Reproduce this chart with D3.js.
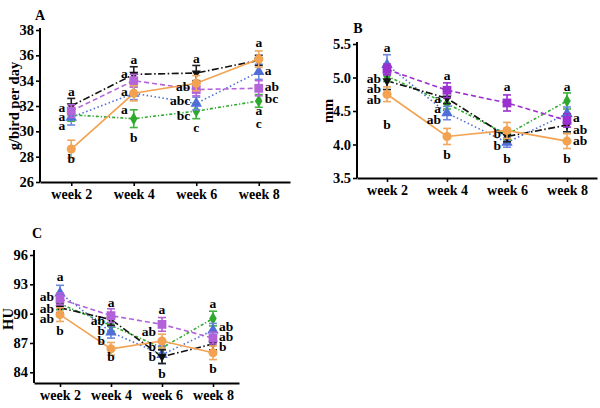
<!DOCTYPE html>
<html><head><meta charset="utf-8">
<script src="https://cdn.jsdelivr.net/npm/d3@7"></script>
<style>
html,body{margin:0;padding:0;background:#fff;}
svg text{font-family:"Liberation Serif","Times New Roman",serif;font-weight:bold;fill:#000;}
</style></head>
<body><svg id="c" width="600" height="408"></svg>
<script>
// ---------- data ----------
const weeks = ["week 2","week 4","week 6","week 8"];
const seriesKeys = ["green","blue","black","purple","orange"];

// Panel A: feed intake, g/bird per day
const aTicks = [26,28,30,32,34,36,38];
const aBlack  = [32.0,34.5,34.6,35.6], aBlackSE  = [0.6,0.6,0.6,0.4];
const aPurple = [31.6,34.0,33.3,33.4], aPurpleSE = [0.5,0.5,0.5,0.6];
const aBlue   = [31.1,33.0,32.2,34.7], aBlueSE   = [0.6,0.5,0.5,0.6];
const aGreen  = [31.3,31.0,31.6,32.4], aGreenSE  = [0.5,0.7,0.6,0.5];
const aOrange = [28.6,33.0,33.8,35.7], aOrangeSE = [0.7,0.6,0.6,0.65];
// letters: [week index, value level, text, side]
const aLetters = [
  [0,33.2,"a","c"],[0,31.9,"a","l"],[0,31.16,"a","l"],[0,30.48,"a","l"],[0,27.9,"b","c"],
  [1,35.7,"a","c"],[1,34.58,"a","l"],[1,33.13,"a","l"],[1,31.74,"a","l"],[1,29.5,"b","c"],
  [2,35.77,"a","c"],[2,33.53,"ab","l"],[2,32.42,"abc","l"],[2,31.27,"bc","l"],[2,30.32,"c","c"],
  [3,37.0,"a","c"],[3,34.79,"a","r"],[3,33.58,"ab","r"],[3,32.6,"bc","r"],[3,31.69,"a","c"],[3,30.63,"c","c"]
];

// Panel B: mm
const bTicks = [3.5,4.0,4.5,5.0,5.5];
const bBlack  = [4.95,4.69,4.12,4.29], bBlackSE  = [0.13,0.08,0.08,0.1];
const bPurple = [5.12,4.81,4.62,4.36], bPurpleSE = [0.08,0.11,0.12,0.1];
const bBlue   = [5.19,4.47,4.03,4.46], bBlueSE   = [0.15,0.1,0.07,0.1];
const bGreen  = [5.02,4.61,4.15,4.65], bGreenSE  = [0.08,0.08,0.08,0.12];
const bOrange = [4.75,4.12,4.21,4.05], bOrangeSE = [0.11,0.12,0.12,0.11];
const bLetters = [
  [0,5.445,"a","c"],[0,4.995,"ab","l"],[0,4.835,"ab","l"],[0,4.67,"ab","l"],[0,4.30,"b","c"],
  [1,5.04,"a","c"],[1,4.686,"a","l"],[1,4.536,"a","l"],[1,4.375,"ab","l"],[1,3.85,"b","c"],
  [2,4.87,"a","c"],[2,4.17,"b","l"],[2,3.995,"b","l"],[2,3.80,"b","c"],
  [3,4.87,"a","c"],[3,4.40,"a","r"],[3,4.22,"ab","r"],[3,4.06,"ab","r"],[3,3.80,"b","c"]
];

// Panel C: HU
const cTicks = [84,87,90,93,96];
const cBlack  = [90.6,89.4,85.6,86.9], cBlackSE  = [0.5,0.6,0.7,0.6];
const cPurple = [91.5,89.8,88.9,87.5], cPurpleSE = [0.6,0.7,0.7,0.6];
const cBlue   = [92.1,88.1,85.8,88.3], cBlueSE   = [0.8,0.6,0.9,0.7];
const cGreen  = [91.0,88.8,86.5,89.5], cGreenSE  = [0.6,0.6,0.6,0.75];
const cOrange = [89.9,86.4,87.2,86.0], cOrangeSE = [0.7,0.65,0.7,0.7];
const cLetters = [
  [0,93.85,"a","c"],[0,91.73,"ab","l"],[0,90.6,"ab","l"],[0,89.52,"ab","l"],[0,88.26,"b","c"],
  [1,91.12,"a","c"],[1,89.28,"ab","l"],[1,88.26,"b","l"],[1,87.23,"b","l"],[1,85.67,"b","c"],
  [2,90.44,"a","c"],[2,88.15,"ab","l"],[2,86.69,"b","l"],[2,85.6,"b","l"],[2,83.9,"b","c"],
  [3,91.06,"a","c"],[3,88.66,"ab","r"],[3,87.71,"ab","r"],[3,86.62,"b","r"],[3,84.41,"b","c"]
];

// ---------- styles ----------
const style = {
  black:  {color:"#111111", err:"#222222", dash:"7,2.5,1.5,2.5", shape:"tri-down"},
  purple: {color:"#B060D8", err:"#C07ADF", dash:"5,3", shape:"square"},
  blue:   {color:"#4F6ED8", err:"#6E88E0", dash:"1.5,2.5", shape:"tri-up"},
  green:  {color:"#2DAA2D", err:"#3DB33D", dash:"3,2,1.2,2", shape:"diamond"},
  orange: {color:"#F2A250", err:"#F0A860", dash:null, shape:"circle"}
};

const panels = [
  {label:"A", ylab:"g/bird per day", ticks:aTicks, dom:[26,38], x0:40, x1:290, yTop:30, yBot:182, axTop:28,
   pad:0.5, fmt:d3.format("d"), letters:aLetters, purple:"#B565DA",
   data:{black:[aBlack,aBlackSE],purple:[aPurple,aPurpleSE],blue:[aBlue,aBlueSE],green:[aGreen,aGreenSE],orange:[aOrange,aOrangeSE]},
   lab:[40,15], ylabX:14},
  {label:"B", ylab:"mm", ticks:bTicks, dom:[3.5,5.5], x0:357, x1:597, yTop:44, yBot:178, axTop:42,
   pad:0.5, fmt:d3.format(".1f"), letters:bLetters, purple:"#9B30D0",
   data:{black:[bBlack,bBlackSE],purple:[bPurple,bPurpleSE],blue:[bBlue,bBlueSE],green:[bGreen,bGreenSE],orange:[bOrange,bOrangeSE]},
   lab:[358,28], ylabX:328},
  {label:"C", ylab:"HU", ticks:cTicks, dom:[84,96], x0:34, x1:239, yTop:255, yBot:372.3, axBot:383, axTop:250,
   pad:0.51, fmt:d3.format("d"), letters:cLetters, purple:"#B262D8",
   data:{black:[cBlack,cBlackSE],purple:[cPurple,cPurpleSE],blue:[cBlue,cBlueSE],green:[cGreen,cGreenSE],orange:[cOrange,cOrangeSE]},
   lab:[37,233], ylabX:8}
];

const svg = d3.select("#c");

function markerPath(shape, s){
  if(shape==="circle") return d3.symbol(d3.symbolCircle, s*s*0.8)();
  if(shape==="square") return d3.symbol(d3.symbolSquare, s*s*0.95)();
  if(shape==="diamond") return d3.symbol(d3.symbolDiamond, s*s*0.6)();
  if(shape==="tri-up") return d3.symbol(d3.symbolTriangle, s*s*0.7)();
  if(shape==="tri-down") return d3.symbol(d3.symbolTriangle, s*s*0.45)();
  return null;
}

panels.forEach(p=>{
  const g = svg.append("g");
  const x = d3.scalePoint().domain(weeks).range([p.x0,p.x1]).padding(p.pad);
  const y = d3.scaleLinear().domain(p.dom).range([p.yBot,p.yTop]);
  const axBot = p.axBot || p.yBot;

  // axes
  const yAx = g.append("g").attr("transform",`translate(${p.x0},0)`)
    .call(d3.axisLeft(y).tickValues(p.ticks).tickFormat(p.fmt).tickSize(4).tickSizeOuter(0).tickPadding(2));
  yAx.select(".domain").attr("d",`M0,${axBot}V${p.axTop}`);
  yAx.selectAll("text").style("font-size","14.5px");
  const xAx = g.append("g").attr("transform",`translate(0,${axBot})`)
    .call(d3.axisBottom(x).tickSize(4).tickSizeOuter(0).tickPadding(3));
  xAx.selectAll("text").style("font-size","14px").attr("dy","0.72em");
  g.selectAll(".domain").attr("stroke","#000").attr("stroke-width",2);
  g.selectAll(".tick line").attr("stroke","#000").attr("stroke-width",1.6);

  // panel label
  g.append("text").attr("x",p.lab[0]).attr("y",p.lab[1]).attr("dy","0.35em")
    .attr("text-anchor","middle").style("font-size","14px").text(p.label);
  // y label
  g.append("text").attr("transform",`translate(${p.ylabX},${(p.yTop+axBot)/2}) rotate(-90)`)
    .attr("dy","0.35em").attr("text-anchor","middle").style("font-size","14.5px").text(p.ylab);

  const line = d3.line().x((d,i)=>x(weeks[i])).y(d=>y(d));

  seriesKeys.forEach(k=>{
    const st = style[k];
    const col = k==="purple" ? p.purple : st.color;
    const [vals] = p.data[k];
    g.append("path").datum(vals).attr("d",line).attr("fill","none")
      .attr("stroke",col).attr("stroke-width",1.6)
      .attr("stroke-dasharray",st.dash);
  });

  seriesKeys.forEach(k=>{
    const st = style[k];
    const col = k==="purple" ? p.purple : st.color;
    const ecol = k==="purple" ? p.purple : st.err;
    const [vals,se] = p.data[k];
    vals.forEach((v,i)=>{
      const cx = x(weeks[i]);
      const y1 = y(v+se[i]), y2 = y(v-se[i]);
      g.append("line").attr("x1",cx).attr("x2",cx).attr("y1",y1).attr("y2",y2)
        .attr("stroke",ecol).attr("stroke-width",1.6);
      [y1,y2].forEach(yy=>g.append("line").attr("x1",cx-4).attr("x2",cx+4).attr("y1",yy).attr("y2",yy)
        .attr("stroke",ecol).attr("stroke-width",1.6));
      g.append("path").attr("d",markerPath(st.shape,9))
        .attr("fill",col)
        .attr("transform",`translate(${cx},${y(v)})${st.shape==="tri-down"?" rotate(180)":""}`);
    });
  });

  // significance letters
  p.letters.forEach(([wi,val,t,side])=>{
    const cx = x(weeks[wi]);
    let tx = cx, anchor="middle";
    if(side==="l"){tx = cx-6; anchor="end";}
    if(side==="r"){tx = cx+6; anchor="start";}
    g.append("text").attr("x",tx).attr("y",y(val)).attr("dy","0.35em")
      .attr("text-anchor",anchor).style("font-size","13.5px").text(t);
  });
});
</script></body></html>
